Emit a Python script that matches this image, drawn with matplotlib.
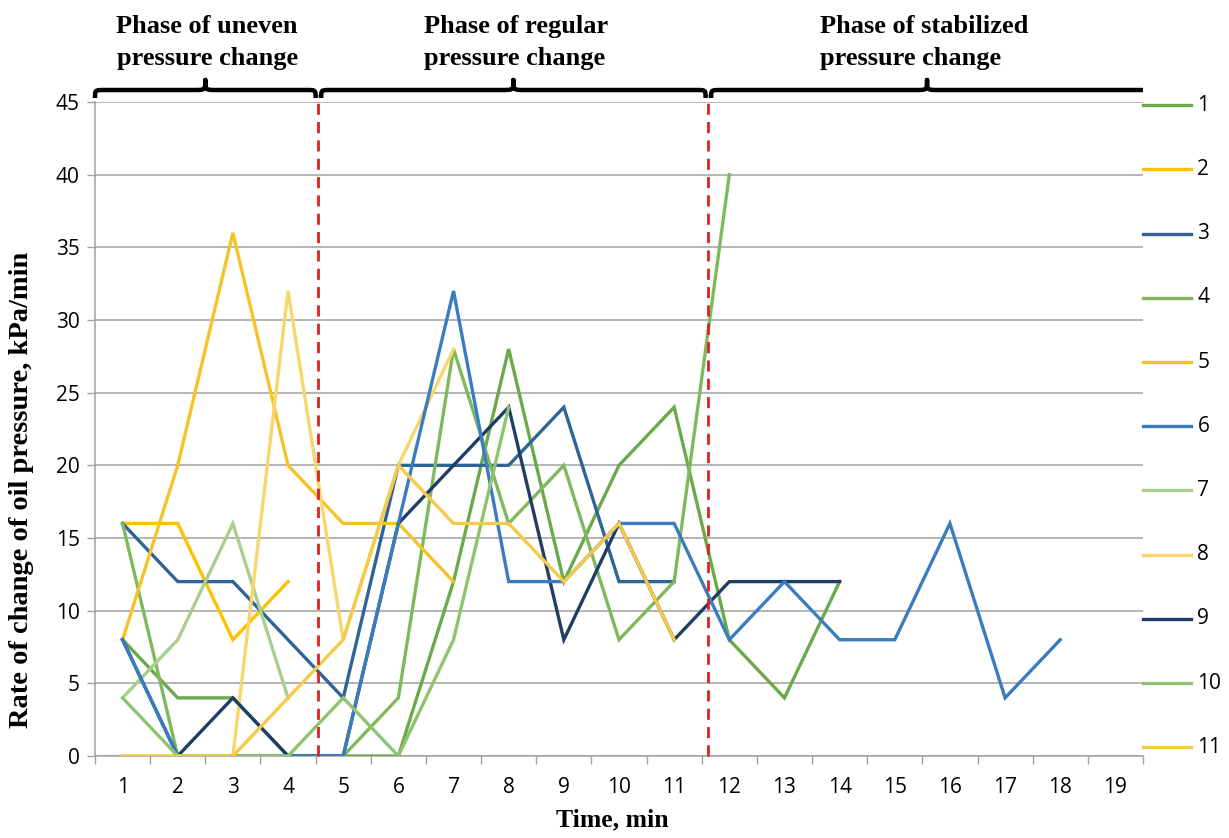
import numpy as np
import matplotlib
matplotlib.use("Agg")
import matplotlib.pyplot as plt
from matplotlib.path import Path
from matplotlib.patches import PathPatch
from matplotlib.lines import Line2D

# Time axis (minutes) and measured rates of change of oil pressure, kPa/min
minutes = list(range(1, 20))

s1 = [8, 4, 4, 0, 0, 0, 12, 28, 12, 20, 24, 8, 4, 12]
s2 = [16, 16, 8, 12]
s3 = [16, 12, 12, 8, 4, 20, 20, 20, 24, 12, 12]
s4 = [16, 0, 0, 0, 0, 4, 28, 16, 20, 8, 12, 40]
s5 = [8, 20, 36, 20, 16, 16, 12]
s6 = [8, 0, 0, 0, 0, 16, 32, 12, 12, 16, 16, 8, 12, 8, 8, 16, 4, 8]
s7 = [4, 8, 16, 4]
s8 = [0, 0, 0, 32, 8, 20, 28]
s9 = [8, 0, 4, 0, 0, 16, 20, 24, 8, 16, 8, 12, 12, 12]
s10 = [4, 0, 0, 0, 4, 0, 8, 24]
s11 = [0, 0, 0, 4, 8, 20, 16, 16, 12, 16, 8]

series = [s1, s2, s3, s4, s5, s6, s7, s8, s9, s10, s11]
series_names = [str(i) for i in range(1, 12)]
colors = ["#6BAA4A", "#FFC000", "#2E6496", "#7FB95C", "#F5C22A", "#3A7CC0",
          "#A8D08C", "#F9D56E", "#203E65", "#8EC46F", "#F6CA48"]
# series 6 is drawn above series 9 where the two coincide
zorders = [3.0, 3.1, 3.2, 3.3, 3.4, 3.95, 3.6, 3.7, 3.8, 4.0, 4.1]

# Boundaries between the three phases (in time units)
phase_bounds = [4.55, 11.62]
phase_titles = [("Phase of uneven", "pressure change"),
                ("Phase of regular", "pressure change"),
                ("Phase of stabilized", "pressure change")]

W, H = 1229, 838
fig = plt.figure(figsize=(W / 100, H / 100), dpi=100)
ax = fig.add_axes([95 / W, (H - 756) / H, (1143 - 95) / W, 654 / H])

x = np.array(minutes, dtype=float)
lines = []
for vals, c, z in zip(series, colors, zorders):
    y = np.full(len(minutes), np.nan)
    y[:len(vals)] = [np.nan if v is None else v for v in vals]
    ln, = ax.plot(x, y, color=c, lw=2.4, solid_joinstyle="miter", zorder=z)
    lines.append(ln)

ax.set_xlim(0.5, 19.5)
ax.set_ylim(0, 45)
ax.set_yticks(range(0, 46, 5))
ax.set_xticks(minutes)
ax.set_xticks(np.arange(0.5, 20, 1.0), minor=True)
ax.tick_params(axis="x", which="major", length=0, pad=15, labelsize=15)
ax.tick_params(axis="x", which="minor", length=6, color="#A0A0A0", width=1)
ax.tick_params(axis="y", length=6, color="#A0A0A0", width=1, pad=5, labelsize=15)
for lab in ax.get_xticklabels() + ax.get_yticklabels():
    lab.set_fontfamily("Open Sans")

ax.grid(axis="y", color="#A0A0A0", lw=1.1, zorder=0)
ax.set_axisbelow(True)
for side in ("top", "right"):
    ax.spines[side].set_visible(False)
for side in ("left", "bottom"):
    ax.spines[side].set_color("#A0A0A0")
    ax.spines[side].set_linewidth(1.1)

# Phase boundaries
for b in phase_bounds:
    ax.axvline(b, ymin=0, ymax=1.01, color="#E0201C", lw=2.0,
               dashes=(4, 2.6), zorder=5, clip_on=False)

serif = dict(family="Liberation Serif", weight="bold")

# Curly braces above the plot for each phase
fig.canvas.draw()
to_px = ax.transData.transform


def brace(x0, x1, open_right=False):
    p0 = to_px((x0, 45))[0]
    p1 = to_px((x1, 45))[0]
    pm = (p0 + p1) / 2
    top = to_px((x0, 45))[1]
    e, b, t = top + 4, top + 12, top + 22
    r, rt = 9, 11
    verts = [(p0, e), (p0, b), (p0, b), (p0 + r, b),
             (pm - rt, b), (pm, b), (pm, b), (pm, t),
             (pm, b), (pm, b), (pm + rt, b)]
    codes = [Path.MOVETO, Path.CURVE4, Path.CURVE4, Path.CURVE4,
             Path.LINETO, Path.CURVE4, Path.CURVE4, Path.CURVE4,
             Path.CURVE4, Path.CURVE4, Path.CURVE4]
    if open_right:
        verts += [(p1, b)]
        codes += [Path.LINETO]
    else:
        verts += [(p1 - r, b), (p1, b), (p1, b), (p1, e)]
        codes += [Path.LINETO, Path.CURVE4, Path.CURVE4, Path.CURVE4]
    verts = [(vx / W, vy / H) for vx, vy in verts]
    fig.add_artist(PathPatch(Path(verts, codes), transform=fig.transFigure,
                             fill=False, lw=3.2, color="black",
                             capstyle="butt", joinstyle="round"))


edges = [0.5] + phase_bounds + [19.5]
gap = 0.05
brace(edges[0], edges[1] - gap)
brace(edges[1] + gap, edges[2] - gap)
brace(edges[2] + gap, edges[3], open_right=True)

# Phase titles
title_layout = [("right", 298), ("left", 424), ("left", 820)]
for (l1, l2), (ha, xp) in zip(phase_titles, title_layout):
    fig.text(xp / W, 1 - 33 / H, l1, ha=ha, va="baseline", size=19, **serif)
    fig.text(xp / W, 1 - 65 / H, l2, ha=ha, va="baseline", size=19, **serif)

# Axis titles
fig.text(22 / W, 1 - 490 / H, "Rate of change of oil pressure, kPa/min",
         rotation=90, ha="center", va="center", size=20.5, **serif)
fig.text(612 / W, 1 - 820 / H, "Time, min", ha="center", va="center",
         size=18.5, **serif)

# Legend on the right
step = 64.2 / 654
for i, (ln, name) in enumerate(zip(lines, series_names)):
    yy = 0.995 - i * step
    ax.add_line(Line2D([1.0, 1.046], [yy, yy], transform=ax.transAxes,
                       color=ln.get_color(), lw=2.4, clip_on=False))
    ax.text(1.052, yy, name, transform=ax.transAxes, ha="left", va="center",
            fontsize=15, family="Open Sans")

fig.savefig("out.png", dpi=100)
